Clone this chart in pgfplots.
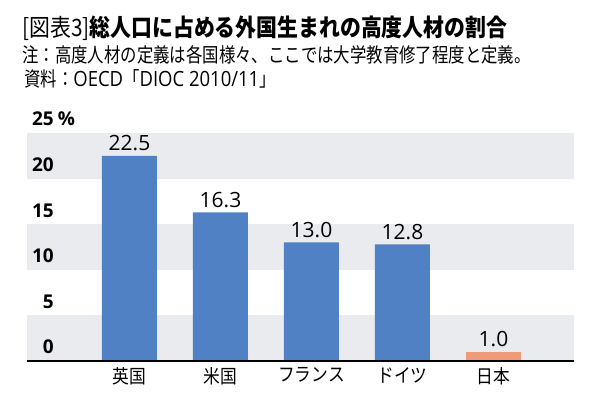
\documentclass[border=0pt]{standalone}
\usepackage{fontspec}
\usepackage{pgfplots}
\pgfplotsset{compat=1.18}
\newfontfamily\titlefont{Noto Sans CJK JP}[FakeStretch=0.87]
\newfontfamily\subfont{Noto Sans CJK JP}[FakeStretch=0.82]
\newfontfamily\latfont{Open Sans}[FakeStretch=0.88]
\newfontfamily\catfont{Noto Sans CJK JP}[FakeStretch=0.88]
\newfontfamily\numfont{Open Sans}
\definecolor{barblue}{HTML}{4F81C4}
\definecolor{barorange}{HTML}{EF9B7A}
\definecolor{band}{HTML}{E9EBEE}
\begin{document}
\begin{tikzpicture}[x=1pt,y=1pt]
\path[use as bounding box] (0,0) rectangle (592,398);
\node[anchor=base west,inner sep=0] at (22,361) {\fontsize{24}{24}\titlefont [図表3]\bfseries 総人口に占める外国生まれの高度人材の割合};
\node[anchor=base west,inner sep=0] at (22,335) {\fontsize{20}{20}\subfont 注：高度人材の定義は各国様々、ここでは大学教育修了程度と定義。};
\node[anchor=base west,inner sep=0] at (24,311) {\fontsize{20}{20}\subfont 資料：{\fontsize{21}{21}\latfont OECD}「{\fontsize{21}{21}\latfont DIOC 2010/11}」};
\begin{axis}[
  at={(27pt,37pt)}, anchor=south west,
  scale only axis, width=547pt, height=228pt,
  xmin=-1.126, xmax=4.885, ymin=0, ymax=25,
  ybar, clip=false, axis on top,
  axis line style={draw=none},
  major tick length=0pt,
  ytick={0,5,10,15,20,25},
  yticklabels={0,5,10,15,20,{25\rlap{\kern4pt\%}}},
  yticklabel style={font=\fontsize{19}{19}\numfont\bfseries, anchor=base east, inner sep=0pt, xshift=27pt, yshift=7pt},
  xtick={0,1,2,3,4},
  xticklabels={英国,米国,フランス,ドイツ,日本},
  xticklabel style={font=\fontsize{19}{19}\catfont, anchor=north, inner sep=0pt, yshift=-6pt},
  /pgf/number format/assume math mode=true,
  nodes near coords={\pgfmathprintnumber[fixed,fixed zerofill,precision=1]{\pgfplotspointmeta}},
  every node near coord/.append style={font=\fontsize{21}{21}\numfont, anchor=base, inner sep=0pt, yshift=5pt, text=black},
]
\fill[band] (rel axis cs:0,0) rectangle (rel axis cs:1,0.2);
\fill[band] (rel axis cs:0,0.4) rectangle (rel axis cs:1,0.6);
\fill[band] (rel axis cs:0,0.8) rectangle (rel axis cs:1,1);
\addplot[fill=barblue, draw=none, bar width=55pt, bar shift=0pt] coordinates {(0,22.5) (1,16.3) (2,13.0) (3,12.8)};
\addplot[fill=barorange, draw=none, bar width=55pt, bar shift=0pt] coordinates {(4,1.0)};
\draw[black, line width=1.3pt] (rel axis cs:0,0) -- (rel axis cs:1,0);
\end{axis}
\end{tikzpicture}
\end{document}
